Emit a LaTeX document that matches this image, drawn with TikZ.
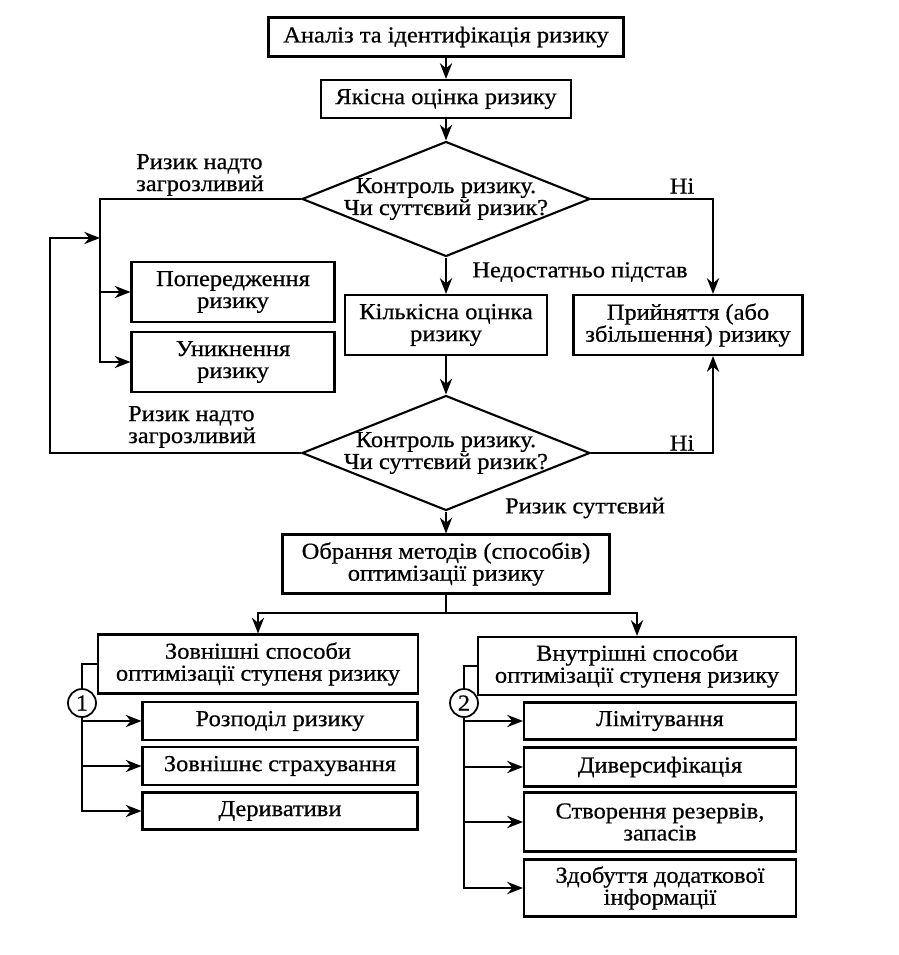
\documentclass[tikz,border=0pt]{standalone}
\usepackage{fontspec}
\setmainfont[FakeStretch=1.07, FakeBold=0.6]{Liberation Serif}
\usetikzlibrary{shapes.geometric,arrows.meta}

\tikzset{
  blk/.style={draw, line width=1.2pt, align=center, inner sep=1pt},
  dec/.style={draw, line width=1.2pt, shape=diamond, aspect=2.5, inner sep=0pt,
              minimum width=5.76cm, minimum height=2.3cm},
  num/.style={draw, line width=1pt, circle, inner sep=0pt, minimum size=0.56cm},
  lbl/.style={align=left, inner sep=0pt},
  ln/.style={line width=1pt},
  arr/.style={line width=1pt, -{Stealth[length=9pt,width=7pt]}},
}

\begin{document}
\begin{tikzpicture}[x=0.02cm, y=-0.02cm, font=\fontsize{13}{12.5}\selectfont]
\fill[white] (0,0) rectangle (898,955);
\useasboundingbox (0,0) rectangle (898,955);

%% main column
    \node[blk, minimum width=7.1cm,  minimum height=0.78cm] (an) at (446,37)  {Аналіз та ідентифікація ризику};
    \node[blk, minimum width=5.0cm,  minimum height=0.76cm] (yk) at (446,99)  {Якісна оцінка ризику};
    \node[dec] (d1) at (446,199) {};
    \node[align=center, inner sep=0pt] at (d1) {Контроль ризику.\\Чи суттєвий ризик?};
    \node[blk, minimum width=4.04cm, minimum height=1.2cm]  (kl) at (446,325) {Кількісна оцінка\\ризику};
    \node[blk, minimum width=4.58cm, minimum height=1.2cm]  (pr) at (688,325) {Прийняття (або\\збільшення) ризику};
    \node[blk, minimum width=4.06cm, minimum height=1.2cm]  (pp) at (233,292) {Попередження\\ризику};
    \node[blk, minimum width=4.06cm, minimum height=1.2cm]  (un) at (233,362) {Уникнення\\ризику};
    \node[dec] (d2) at (446,453) {};
    \node[align=center, inner sep=0pt] at (d2) {Контроль ризику.\\Чи суттєвий ризик?};
    \node[blk, minimum width=6.54cm, minimum height=1.18cm] (ob) at (446,564) {Обрання методів (способів)\\оптимізації ризику};

%% labels
    \node[lbl] (t1) at (200,175) {Ризик надто\\загрозливий};
    \node[lbl] (t2) at (192,427) {Ризик надто\\загрозливий};
    \node[lbl] (n1) at (682,186) {Ні};
    \node[lbl] (n2) at (682,443) {Ні};
    \node[lbl] (t3) at (580,272) {Недостатньо підстав};
    \node[lbl] (t4) at (585,508) {Ризик суттєвий};

%% two groups of methods
    \node[blk, minimum width=6.4cm,  minimum height=1.18cm] (zs) at (258,664) {Зовнішні способи\\оптимізації ступеня ризику};
    \node[blk, minimum width=6.36cm, minimum height=1.16cm] (vs) at (637,666) {Внутрішні способи\\оптимізації ступеня ризику};
    \node[num] (c1) at (82,703)  {1};
    \node[num] (c2) at (464,703) {2};
    \node[blk, minimum width=5.5cm, minimum height=0.76cm]  (r1) at (280,721) {Розподіл ризику};
    \node[blk, minimum width=5.5cm, minimum height=0.76cm]  (r2) at (280,766) {Зовнішнє страхування};
    \node[blk, minimum width=5.5cm, minimum height=0.74cm]  (r3) at (280,811) {Деривативи};
    \node[blk, minimum width=5.44cm, minimum height=0.74cm] (l1) at (660,721) {Лімітування};
    \node[blk, minimum width=5.44cm, minimum height=0.78cm] (l2) at (660,767) {Диверсифікація};
    \node[blk, minimum width=5.44cm, minimum height=1.18cm] (l3) at (660,822) {Створення резервів,\\запасів};
    \node[blk, minimum width=5.44cm, minimum height=1.14cm] (l4) at (660,888) {Здобуття додаткової\\інформації};

    \coordinate (busL) at (100,199);
    \coordinate (busO) at (50,238);
    \coordinate (jn)   at (446,613);

    \draw[arr] (an) -- (yk);
    \draw[arr] (yk) -- (d1);
    \draw[arr] (d1) -- (kl);
    \draw[arr] (kl) -- (d2);
    \draw[arr] (d2) -- (ob);
    \draw[arr] (d1.east) -| ([xshift=0.5cm]pr.north);
    \draw[arr] (d2.east) -| ([xshift=0.5cm]pr.south);
    \draw[arr] (d1.west) -- (busL) |- (un.west);
    \draw[arr] (busL |- pp.west) -- (pp.west);
    \draw[arr] (d2.west) -| (busO) -- (busL |- busO);
    \draw[ln] (ob) -- (jn);
    \draw[arr] (jn) -| (zs.north);
    \draw[arr] (jn) -| (vs.north);
    \draw[ln] (zs.west) -| (c1.north);
    \draw[ln] (vs.west) -| (c2.north);
    \draw[arr] (c1.south) |- (r3.west);
    \draw[arr] (c1 |- r1.west) -- (r1.west);
    \draw[arr] (c1 |- r2.west) -- (r2.west);
    \draw[arr] (c2.south) |- (l4.west);
    \draw[arr] (c2 |- l1.west) -- (l1.west);
    \draw[arr] (c2 |- l2.west) -- (l2.west);
    \draw[arr] (c2 |- l3.west) -- (l3.west);
\end{tikzpicture}
\end{document}
